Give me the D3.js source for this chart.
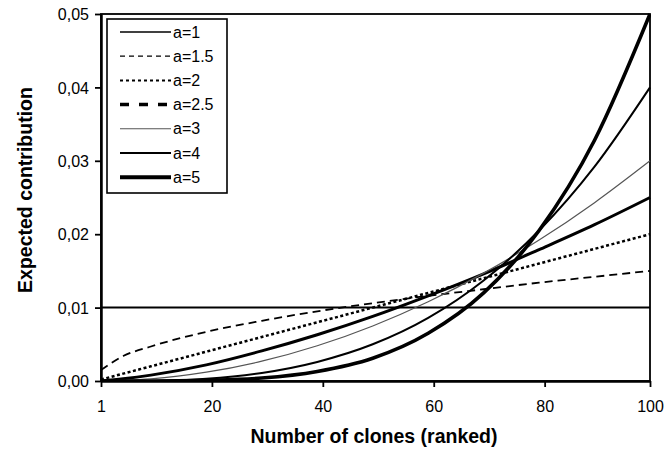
<!DOCTYPE html>
<html>
<head>
<meta charset="utf-8">
<script src="https://cdn.jsdelivr.net/npm/d3@7"></script>
<style>
  html, body { margin: 0; padding: 0; background: #fff; }
  svg { display: block; font-family: "Liberation Sans", Arial, sans-serif; }
</style>
</head>
<body>
<div id="chart"></div>
<script>
// Data
const clones = [1, 5, 10, 20, 30, 40, 50, 60, 70, 80, 90, 100];
const a1  = [0.0100, 0.0100, 0.0100, 0.0100, 0.0100, 0.0100, 0.0100, 0.0100, 0.0100, 0.0100, 0.0100, 0.0100];
const a15 = [0.0015, 0.0034, 0.0047, 0.0067, 0.0082, 0.0095, 0.0106, 0.0116, 0.0125, 0.0134, 0.0142, 0.0150];
const a2  = [0.0002, 0.0010, 0.0020, 0.0040, 0.0060, 0.0080, 0.0100, 0.0120, 0.0140, 0.0160, 0.0180, 0.0200];
const a25 = [0.0000, 0.0003, 0.0008, 0.0022, 0.0041, 0.0063, 0.0088, 0.0116, 0.0146, 0.0179, 0.0213, 0.0250];
const a3  = [0.0000, 0.0001, 0.0003, 0.0012, 0.0027, 0.0048, 0.0075, 0.0108, 0.0147, 0.0192, 0.0243, 0.0300];
const a4  = [0.0000, 0.0000, 0.0000, 0.0003, 0.0011, 0.0026, 0.0050, 0.0086, 0.0137, 0.0205, 0.0292, 0.0400];
const a5  = [0.0000, 0.0000, 0.0000, 0.0001, 0.0004, 0.0013, 0.0031, 0.0065, 0.0120, 0.0205, 0.0328, 0.0500];

const seriesNames = ["a=1", "a=1.5", "a=2", "a=2.5", "a=3", "a=4", "a=5"];
const seriesValues = [a1, a15, a2, a25, a3, a4, a5];

const xTickValues = [1, 21, 41, 61, 81, 100];
const xTickLabels = ["1", "20", "40", "60", "80", "100"];
const yTickValues = [0, 0.01, 0.02, 0.03, 0.04, 0.05];
const yTickLabels = ["0,00", "0,01", "0,02", "0,03", "0,04", "0,05"];

// Line styles: plot and legend differ a little (as in the original)
const STYLES = [
    { plotW: 2,   plotDash: null,  legW: 1.6, legDash: null,   color: "#000" },
    { plotW: 1.8, plotDash: "8,5", legW: 1.3, legDash: "5,4",  color: "#000" },
    { plotW: 2.5, plotDash: "3,2.5", legW: 2, legDash: "3,3",  color: "#000" },
    { plotW: 3,   plotDash: null,  legW: 3.5, legDash: "9,10", color: "#000" },
    { plotW: 1.2, plotDash: null,  legW: 1.1, legDash: null,   color: "#555" },
    { plotW: 2,   plotDash: null,  legW: 2,   legDash: null,   color: "#000" },
    { plotW: 3.6, plotDash: null,  legW: 4,   legDash: null,   color: "#000" }
];

const CHART_CONFIG = {
    width: 669,
    height: 453,
    margin: { top: 14, right: 19, bottom: 72, left: 101 }
};

function renderChart() {
    const W = CHART_CONFIG.width, H = CHART_CONFIG.height, m = CHART_CONFIG.margin;
    const innerWidth = W - m.left - m.right;
    const innerHeight = H - m.top - m.bottom;

    const svg = d3.select("#chart").append("svg")
        .attr("width", W).attr("height", H);

    const g = svg.append("g").attr("transform", `translate(${m.left},${m.top})`);

    const x = d3.scaleLinear().domain([1, 100]).range([0, innerWidth]);
    const y = d3.scaleLinear().domain([0, 0.05]).range([innerHeight, 0]);

    g.append("clipPath").attr("id", "plotclip")
        .append("rect").attr("x", 0).attr("y", -2).attr("width", innerWidth + 1).attr("height", innerHeight + 3);

    // frame (top/right)
    g.append("rect")
        .attr("x", 0).attr("y", 0).attr("width", innerWidth).attr("height", innerHeight)
        .attr("fill", "none").attr("stroke", "#000").attr("stroke-width", 1.8);

    // series
    const line = d3.line()
        .x((d, i) => x(clones[i]))
        .y(d => y(d))
        .curve(d3.curveMonotoneX);

    const lines = g.append("g").attr("clip-path", "url(#plotclip)");
    seriesValues.forEach((vals, k) => {
        const s = STYLES[k];
        lines.append("path")
            .attr("d", line(vals))
            .attr("fill", "none")
            .attr("stroke", s.color)
            .attr("stroke-width", s.plotW)
            .attr("stroke-dasharray", s.plotDash);
    });

    // axes
    const xAxis = d3.axisBottom(x)
        .tickValues(xTickValues)
        .tickFormat((d, i) => xTickLabels[i])
        .tickSizeInner(6).tickSizeOuter(0).tickPadding(14);
    const gx = g.append("g").attr("transform", `translate(0,${innerHeight})`).call(xAxis);

    const yAxis = d3.axisLeft(y)
        .tickValues(yTickValues)
        .tickFormat((d, i) => yTickLabels[i])
        .tickSizeInner(6).tickSizeOuter(0).tickPadding(6);
    const gy = g.append("g").call(yAxis);

    [gx, gy].forEach(a => {
        a.select(".domain").attr("stroke", "#000").attr("stroke-width", 2.5);
        a.selectAll(".tick line").attr("stroke", "#000").attr("stroke-width", 1.8);
        a.selectAll(".tick text")
            .attr("fill", "#000")
            .style("font-size", "16px")
            .style("font-family", "'Liberation Sans', Arial, sans-serif");
    });
    gy.selectAll(".tick text").attr("dy", "0.36em");

    // axis titles
    svg.append("text")
        .attr("x", 374).attr("y", 443)
        .attr("text-anchor", "middle")
        .style("font-size", "19.5px").style("font-weight", "bold")
        .text("Number of clones (ranked)");

    svg.append("text")
        .attr("transform", "translate(32,190) rotate(-90)")
        .attr("text-anchor", "middle")
        .style("font-size", "19.5px").style("font-weight", "bold")
        .text("Expected contribution");

    // legend
    const leg = svg.append("g").attr("transform", "translate(107,19)");
    leg.append("rect")
        .attr("width", 120).attr("height", 174)
        .attr("fill", "#fff").attr("stroke", "#000").attr("stroke-width", 1.6);

    seriesNames.forEach((name, k) => {
        const s = STYLES[k];
        const cy = 13 + k * 24.2;
        leg.append("line")
            .attr("x1", 13).attr("x2", 64).attr("y1", cy).attr("y2", cy)
            .attr("stroke", s.color)
            .attr("stroke-width", s.legW)
            .attr("stroke-dasharray", s.legDash);
        leg.append("text")
            .attr("x", 66).attr("y", cy + 5.5)
            .style("font-size", "16px")
            .text(name);
    });
}

document.addEventListener("DOMContentLoaded", renderChart);
</script>
</body>
</html>
